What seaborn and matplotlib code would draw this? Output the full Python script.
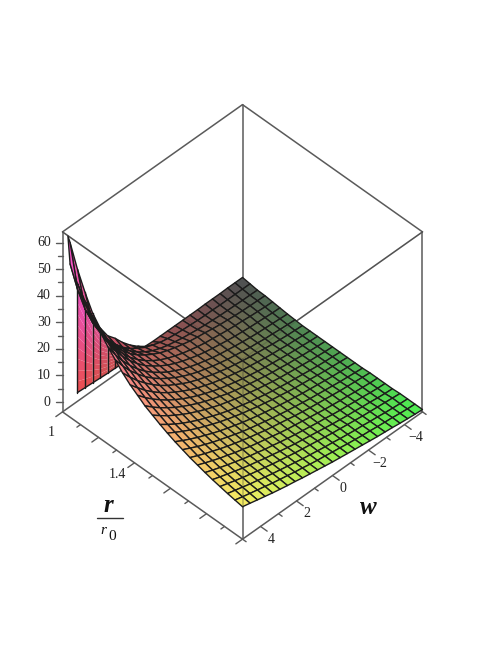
import numpy as np
import seaborn as sns
import matplotlib.pyplot as plt
from matplotlib.lines import Line2D
from mpl_toolkits.mplot3d import proj3d

# --- Data ---
R_VALS = [1.0, 1.042, 1.083, 1.125, 1.167, 1.208, 1.25, 1.292, 1.333, 1.375, 1.417, 1.458, 1.5,
          1.542, 1.583, 1.625, 1.667, 1.708, 1.75, 1.792, 1.833, 1.875, 1.917, 1.958, 2.0]
W_VALS = [-5.0, -4.58, -4.17, -3.75, -3.33, -2.92, -2.5, -2.08, -1.67, -1.25, -0.83, -0.42, 0.0,
          0.42, 0.83, 1.25, 1.67, 2.08, 2.5, 2.92, 3.33, 3.75, 4.17, 4.58, 5.0]
# one row per r value, one column per w value
Z_VALS = [
    [-1.0, -1.0, -1.0, -1.1, -1.1, -1.1, -1.2, -1.2, -1.2, -1.2, -1.2, -1.2, -1.2, -1.0, 1.0, 3.5, 6.5, 10.0, 13.0, 18.0, 25.5, 35.3, 46.0, 58.0, 61.0],
    [-1.4, -1.4, -1.4, -1.4, -1.4, -1.3, -1.3, -1.2, -1.0, -.8, -.5, -.1, .5, 1.5, 2.6, 4.3, 6.2, 8.6, 11.8, 15.5, 20.2, 25.9, 33.1, 42.3, 54.0],
    [-1.8, -1.7, -1.7, -1.6, -1.5, -1.4, -1.2, -1.0, -.7, -.3, .1, .7, 1.3, 2.2, 3.3, 4.9, 6.8, 9.2, 12.1, 15.6, 19.6, 24.7, 31.0, 38.8, 48.5],
    [-1.9, -1.8, -1.7, -1.6, -1.4, -1.1, -.8, -.4, .1, .5, 1.0, 1.7, 2.5, 3.4, 4.5, 6.0, 7.7, 9.7, 12.2, 15.3, 19.0, 23.6, 29.1, 35.8, 44.0],
    [-2.2, -2.1, -1.9, -1.7, -1.4, -1.2, -.9, -.5, -.1, .3, .9, 1.6, 2.4, 3.4, 4.5, 5.9, 7.6, 9.6, 12.0, 14.8, 18.2, 22.3, 27.2, 33.0, 40.0],
    [-2.5, -2.4, -2.2, -2.0, -1.8, -1.5, -1.2, -.8, -.3, .2, .8, 1.5, 2.4, 3.4, 4.5, 5.9, 7.6, 9.5, 11.7, 14.4, 17.5, 21.1, 25.5, 30.5, 36.5],
    [-2.8, -2.6, -2.4, -2.2, -2.0, -1.7, -1.3, -.9, -.4, .1, .7, 1.5, 2.3, 3.3, 4.4, 5.8, 7.3, 9.1, 11.2, 13.6, 16.4, 19.7, 23.5, 27.9, 33.0],
    [-3.0, -2.8, -2.6, -2.3, -2.1, -1.7, -1.4, -.9, -.4, .1, .8, 1.5, 2.4, 3.3, 4.4, 5.7, 7.2, 8.9, 10.8, 13.0, 15.5, 18.5, 21.8, 25.6, 30.0],
    [-3.2, -3.0, -2.8, -2.5, -2.2, -1.8, -1.4, -1.0, -.5, .1, .7, 1.5, 2.3, 3.3, 4.3, 5.5, 6.9, 8.5, 10.2, 12.2, 14.5, 17.1, 20.0, 23.3, 27.0],
    [-3.2, -3.0, -2.7, -2.5, -2.1, -1.8, -1.4, -.9, -.4, .1, .8, 1.5, 2.3, 3.2, 4.2, 5.3, 6.6, 8.1, 9.7, 11.5, 13.5, 15.8, 18.4, 21.3, 24.5],
    [-3.2, -3.0, -2.7, -2.4, -2.1, -1.7, -1.3, -.9, -.4, .2, .8, 1.5, 2.3, 3.1, 4.1, 5.2, 6.4, 7.7, 9.2, 10.9, 12.7, 14.8, 17.1, 19.6, 22.5],
    [-3.2, -3.0, -2.7, -2.4, -2.0, -1.7, -1.2, -.8, -.3, .3, .9, 1.6, 2.3, 3.1, 4.1, 5.1, 6.2, 7.4, 8.8, 10.3, 11.9, 13.8, 15.8, 18.0, 20.5],
    [-3.2, -3.0, -2.7, -2.4, -2.0, -1.6, -1.2, -.8, -.3, .3, .9, 1.6, 2.3, 3.1, 4.0, 4.9, 6.0, 7.1, 8.4, 9.8, 11.3, 13.0, 14.8, 16.8, 19.0],
    [-3.2, -2.9, -2.7, -2.4, -2.0, -1.6, -1.2, -.8, -.3, .2, .8, 1.5, 2.1, 2.9, 3.7, 4.6, 5.6, 6.7, 7.9, 9.1, 10.5, 12.0, 13.7, 15.5, 17.5],
    [-3.2, -2.9, -2.6, -2.3, -1.9, -1.5, -1.1, -.7, -.2, .4, .9, 1.6, 2.2, 3.0, 3.7, 4.6, 5.5, 6.5, 7.6, 8.8, 10.0, 11.4, 12.9, 14.5, 16.2],
    [-3.2, -2.9, -2.6, -2.3, -1.9, -1.5, -1.1, -.7, -.2, .3, .9, 1.5, 2.1, 2.8, 3.5, 4.3, 5.2, 6.1, 7.1, 8.2, 9.4, 10.6, 12.0, 13.4, 15.0],
    [-3.2, -2.9, -2.6, -2.3, -1.9, -1.5, -1.1, -.7, -.2, .3, .8, 1.4, 2.0, 2.7, 3.4, 4.1, 4.9, 5.8, 6.8, 7.8, 8.8, 10.0, 11.2, 12.6, 14.0],
    [-3.0, -2.7, -2.4, -2.1, -1.8, -1.4, -1.0, -.6, -.2, .3, .8, 1.4, 2.0, 2.6, 3.2, 4.0, 4.7, 5.5, 6.4, 7.3, 8.3, 9.4, 10.5, 11.7, 13.0],
    [-3.0, -2.8, -2.5, -2.2, -1.8, -1.5, -1.1, -.7, -.2, .3, .8, 1.3, 1.8, 2.4, 3.1, 3.8, 4.5, 5.2, 6.1, 6.9, 7.9, 8.8, 9.9, 11.0, 12.2],
    [-3.0, -2.8, -2.5, -2.1, -1.8, -1.4, -1.1, -.7, -.2, .2, .7, 1.2, 1.7, 2.3, 2.9, 3.6, 4.2, 5.0, 5.7, 6.5, 7.4, 8.3, 9.3, 10.3, 11.4],
    [-3.0, -2.8, -2.5, -2.1, -1.8, -1.4, -1.1, -.7, -.3, .2, .7, 1.2, 1.7, 2.2, 2.8, 3.4, 4.1, 4.7, 5.5, 6.2, 7.0, 7.9, 8.8, 9.7, 10.7],
    [-2.8, -2.5, -2.2, -1.9, -1.6, -1.3, -.9, -.5, -.1, .3, .8, 1.3, 1.8, 2.3, 2.8, 3.4, 4.0, 4.6, 5.3, 6.0, 6.7, 7.5, 8.3, 9.2, 10.1],
    [-2.8, -2.6, -2.3, -2.0, -1.6, -1.3, -.9, -.6, -.2, .2, .7, 1.1, 1.6, 2.1, 2.6, 3.2, 3.8, 4.4, 5.0, 5.7, 6.4, 7.1, 7.9, 8.7, 9.5],
    [-2.8, -2.6, -2.3, -1.9, -1.6, -1.3, -.9, -.6, -.2, .2, .7, 1.1, 1.6, 2.0, 2.5, 3.1, 3.6, 4.2, 4.8, 5.4, 6.1, 6.8, 7.5, 8.2, 9.0],
    [-2.8, -2.6, -2.3, -2.0, -1.6, -1.3, -1.0, -.6, -.2, .2, .6, 1.0, 1.4, 1.9, 2.4, 2.9, 3.4, 4.0, 4.5, 5.1, 5.7, 6.4, 7.1, 7.8, 8.5],
]
# the pink wall under the r = 1 edge
WALL_W = [4.17, 3.75, 3.33, 2.92, 2.5, 2.08, 1.67]
WALL_LOW = [-0.4, -0.6, -0.8, -1.0, -1.2, -1.3, -1.4]

Z_TICKS = [0, 10, 20, 30, 40, 50, 60]
R_TICKS = [1.0, 1.1, 1.2, 1.3, 1.4, 1.5, 1.6, 1.7, 1.8, 1.9, 2.0]
W_TICKS = [-5, -4, -3, -2, -1, 0, 1, 2, 3, 4, 5]

Z_MIN, Z_MAX = -3.7, 64.0
BOX_COLOR = '#5a5a5a'
TEXT_COLOR = '#222222'
SERIF = 'Liberation Serif'


def face_colors(w, r, z):
    # Maple style xyz shading: red follows w, green follows r, blue follows height
    red = 0.30 + 0.67 * (w + 5) / 10
    green = 0.31 + 0.63 * (r - 1)
    blue = 0.32 + 0.008 * np.clip(z, 0, None)
    return np.clip(np.dstack([red, green, blue, np.ones_like(red)]), 0, 1)


def label_at(w, r, z, text, **kwargs):
    # place a label at a data point through the 3d projection
    x, y, _ = proj3d.proj_transform(w, r, z, ax.get_proj())
    ax.text2D(x, y, text, transform=ax.transData, family=SERIF, fontsize=10, color=TEXT_COLOR, va='center', **kwargs)


sns.set_theme(style='white')

fig = plt.figure(figsize=(4.98, 6.45), dpi=100)
# axes larger than the box so nothing gets clipped
ax = fig.add_axes([-65.6 / 498, 15 / 645, 600 / 498, 600 / 645], projection='3d', computed_zorder=False)
ax.set_proj_type('ortho')
ax.view_init(elev=45, azim=45)
ax.set_box_aspect((1, 1, 1), zoom=428 / 600)
ax.set_xlim(-5, 5, view_margin=0)
ax.set_ylim(1, 2, view_margin=0)
ax.set_zlim(Z_MIN, Z_MAX, view_margin=0)
ax.set_axis_off()
ax.patch.set_alpha(0)

# --- Box ---
corners = [(5, 1), (-5, 1), (-5, 2), (5, 2)]
for i, (w0, r0) in enumerate(corners):
    w1, r1 = corners[(i + 1) % 4]
    ax.plot([w0, w1], [r0, r1], [Z_MIN, Z_MIN], color=BOX_COLOR, lw=1.1, zorder=1)
    ax.plot([w0, w1], [r0, r1], [Z_MAX, Z_MAX], color=BOX_COLOR, lw=1.1, zorder=1)
    ax.plot([w0, w0], [r0, r0], [Z_MIN, Z_MAX], color=BOX_COLOR, lw=1.1, zorder=1)

# --- Wall ---
grid_w, grid_r = np.meshgrid(W_VALS, R_VALS)
grid_z = np.array(Z_VALS)
grid_w[0, -1] = 4.7  # the peak stops just short of the box corner
wall_top = np.interp(WALL_W, W_VALS, grid_z[0])
fractions = np.linspace(0, 1, 12)
wall_w = np.tile(WALL_W, (len(fractions), 1))
wall_r = np.full_like(wall_w, 1.0)
wall_z = np.array([np.array(WALL_LOW) + f * (wall_top - np.array(WALL_LOW)) for f in fractions])
wall_cols = face_colors(wall_w[:-1, :-1], wall_r[:-1, :-1], (wall_z[:-1, :-1] + wall_z[1:, 1:]) / 2 * 1.5)
ax.plot_surface(wall_w, wall_r, wall_z, facecolors=wall_cols, shade=False, linewidth=0, rstride=1, cstride=1, zorder=2)
for k in range(len(WALL_W)):
    ax.plot([WALL_W[k]] * 2, [1.0, 1.0], [WALL_LOW[k], wall_top[k]], color='#1a1a1a', lw=1.0, zorder=2.5)
ax.plot(WALL_W, [1.0] * len(WALL_W), WALL_LOW, color='#1a1a1a', lw=1.0, zorder=2.5)

# --- Surface ---
cell_w = (grid_w[:-1, :-1] + grid_w[1:, 1:]) / 2
cell_r = (grid_r[:-1, :-1] + grid_r[1:, 1:]) / 2
cell_z = (grid_z[:-1, :-1] + grid_z[1:, 1:]) / 2
ax.plot_surface(grid_w, grid_r, grid_z, facecolors=face_colors(cell_w, cell_r, cell_z), shade=False,
                edgecolor='#1c1c1c', linewidth=1.0, rstride=1, cstride=1, zorder=3, antialiased=True)

# box lines show faintly through the surface
ax.plot([5, 5], [2, 2], [8.5, Z_MAX], color='#333333', alpha=0.3, lw=1.2, zorder=4)
ax.plot([5, 5], [1, 2], [Z_MAX, Z_MAX], color='#333333', alpha=0.2, lw=1.0, zorder=4)
ax.plot([5, -5], [2, 2], [Z_MAX, Z_MAX], color='#333333', alpha=0.2, lw=1.0, zorder=4)

# --- Ticks ---
for z in np.arange(0, 61, 5):
    size = 0.194 if z % 10 == 0 else 0.12
    ax.plot([5, 5 + size], [1, 1 - size / 10], [z, z], color=BOX_COLOR, lw=1.0, zorder=1)
for r in R_TICKS:
    size = 0.37 if round(r * 10) % 2 == 0 else 0.2
    ax.plot([5, 5 + size], [r, r], [Z_MIN, Z_MIN], color=BOX_COLOR, lw=1.0, zorder=1)
for w in W_TICKS:
    size = 0.037 if w % 2 == 0 else 0.02
    ax.plot([w, w], [2, 2 + size], [Z_MIN, Z_MIN], color=BOX_COLOR, lw=1.0, zorder=1)

# --- Labels ---
for z in Z_TICKS:
    label_at(5.33, 1 - 0.033, z, str(z), ha='right')
label_at(5.6, 1.0, Z_MIN - 5, '1', ha='center')
label_at(5.95, 1.4, Z_MIN, '1.4', ha='center')
for w in [-4, -2, 0, 2, 4]:
    label_at(w, 2.06, Z_MIN - 2, str(w).replace('-', '\u2212'), ha='center')

fig.text(108 / 498, 1 - 505 / 645, 'r', family=SERIF, fontsize=18, style='italic', weight='bold', ha='center', va='center', color='#111111')
fig.add_artist(Line2D([97 / 498, 123 / 498], [1 - 517.5 / 645] * 2, color='#333333', lw=1.0))
fig.text(103 / 498, 1 - 530 / 645, 'r', family=SERIF, fontsize=11, style='italic', ha='center', va='center', color='#111111')
fig.text(112 / 498, 1 - 536 / 645, '0', family=SERIF, fontsize=11, ha='center', va='center', color='#111111')
fig.text(368 / 498, 1 - 507 / 645, 'w', family=SERIF, fontsize=18, style='italic', weight='bold', ha='center', va='center', color='#111111')

fig.savefig('out.png', dpi=100)
